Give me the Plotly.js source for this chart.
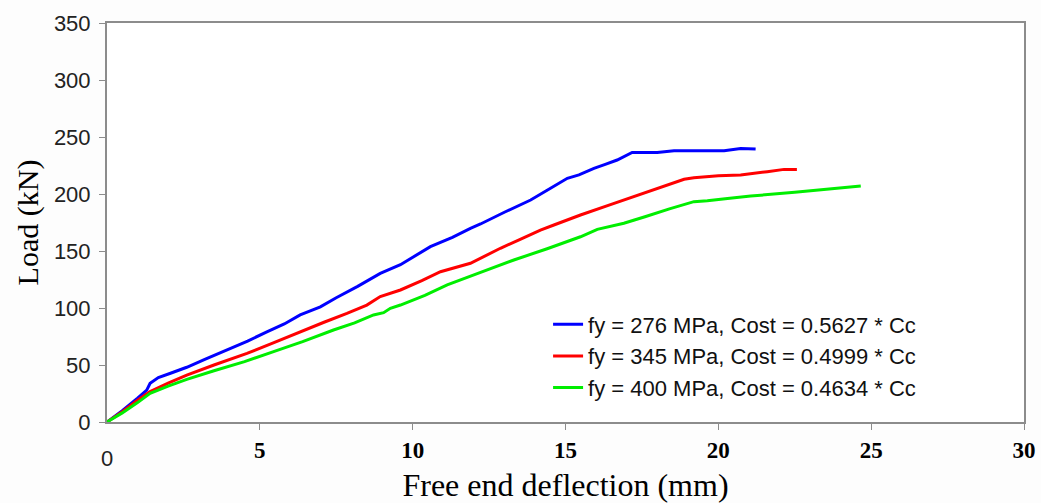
<!DOCTYPE html>
<html>
<head>
<meta charset="utf-8">
<script src="https://cdn.plot.ly/plotly-3.0.1.min.js"></script>
<style>html,body{margin:0;padding:0;background:#fff;}#chart{width:1041px;height:503px;}</style>
</head>
<body>
<div id="chart"></div>
<script>
const seriesNames = [
  "fy = 276 MPa, Cost = 0.5627 * Cc",
  "fy = 345 MPa, Cost = 0.4999 * Cc",
  "fy = 400 MPa, Cost = 0.4634 * Cc"
];
const blueX = [0, 0.5, 1.0, 1.3, 1.41, 1.68, 2.1, 2.61, 3.2, 3.92, 4.6, 5.23, 5.8, 6.32, 6.98, 7.5, 8.2, 8.94, 9.6, 10.58, 11.3, 11.89, 12.22, 13.0, 13.86, 14.51, 15.06, 15.44, 15.93, 16.3, 16.69, 17.18, 18.0, 18.55, 19.4, 20.19, 20.73, 21.22];
const blueY = [0, 10, 21, 28, 34, 39, 43, 48, 55, 63, 71, 79, 86, 94, 101, 109, 119, 130.4, 138, 153.8, 162, 169.9, 173.7, 184, 194.7, 205, 213.8, 216.7, 222.5, 226, 229.8, 236.5, 236.5, 238, 238, 238, 240, 239.5];
const redX = [0, 0.5, 1.0, 1.41, 2.0, 2.61, 3.5, 4.58, 5.4, 6.32, 7.1, 7.85, 8.5, 8.94, 9.6, 10.3, 10.91, 11.89, 12.87, 13.5, 14.18, 14.62, 15.49, 16.4, 17.24, 18.0, 18.88, 19.2, 20.0, 20.73, 21.2, 21.6, 22.15, 22.57];
const redY = [0, 9, 19, 26.6, 34, 41.2, 50, 60.2, 69, 79.2, 87.5, 95.3, 102.6, 110, 115.8, 124, 131.8, 139.2, 152.4, 160, 168.4, 172.8, 181.6, 190, 197.6, 205, 212.9, 214.3, 216, 216.7, 218, 219.6, 221.6, 221.6];
const greenX = [0, 0.5, 1.0, 1.41, 2.0, 2.61, 3.5, 4.5, 5.45, 6.4, 7.41, 8.1, 8.72, 9.05, 9.27, 9.6, 10.4, 11.13, 12.2, 13.31, 14.4, 15.49, 16.04, 16.91, 17.6, 18.4, 19.2, 19.64, 20.3, 21.06, 22.5, 24.0, 24.66];
const greenY = [0, 8, 17, 25.1, 31.5, 37.4, 45, 53, 61.7, 70.5, 80.7, 87, 93.9, 95.9, 99.7, 102.6, 111, 120.2, 131, 142.1, 152, 162.5, 169, 174.3, 180, 187, 193.3, 194.1, 196, 198.2, 201.5, 205, 207];
const xTickVals = [5, 10, 15, 20, 25, 30];
const xTickText = ["5", "10", "15", "20", "25", "30"];
const yTickVals = [0, 50, 100, 150, 200, 250, 300, 350];

const colors = ["#0000ff", "#ff0000", "#00ee00"];
const xs = [blueX, redX, greenX];
const ys = [blueY, redY, greenY];
const traces = xs.map((x, i) => ({
  x: x, y: ys[i], type: "scatter", mode: "lines", name: seriesNames[i],
  line: {color: colors[i], width: 3}
}));

const layout = {
  width: 1041, height: 503,
  margin: {l: 107, r: 17, t: 23, b: 81},
  paper_bgcolor: "#fdfdfd", plot_bgcolor: "#ffffff",
  showlegend: true,
  legend: {
    x: 0.481, y: 0.297, xanchor: "left", yanchor: "top",
    bgcolor: "rgba(0,0,0,0)",
    font: {family: "Arial, Liberation Sans", size: 22, color: "#111"},
    tracegroupgap: 0
  },
  xaxis: {
    range: [0, 30], tickvals: xTickVals, ticktext: xTickText,
    showgrid: false, zeroline: false,
    showline: true, mirror: true, linecolor: "#8c8c8c", linewidth: 2,
    ticks: "outside", ticklen: 6, tickcolor: "#8c8c8c", tickwidth: 1,
    ticklabelstandoff: 0,
    tickfont: {family: "Liberation Serif, Times New Roman", size: 23, color: "#000", weight: "bold"},
    title: {text: "Free end deflection (mm)", standoff: 18,
      font: {family: "Liberation Serif, Times New Roman", size: 32, color: "#000"}}
  },
  yaxis: {
    range: [0, 350], tickvals: yTickVals,
    showgrid: false, zeroline: false,
    showline: true, mirror: true, linecolor: "#8c8c8c", linewidth: 2,
    ticks: "outside", ticklen: 6, tickcolor: "#8c8c8c", tickwidth: 1,
    ticklabelstandoff: 4,
    tickfont: {family: "Arial, Liberation Sans", size: 22, color: "#222"},
    title: {text: "Load (kN)", standoff: 6,
      font: {family: "Liberation Serif, Times New Roman", size: 30, color: "#000"}}
  },
  annotations: [{
    x: 0, y: 0, xref: "x", yref: "paper", text: "0", showarrow: false,
    xanchor: "center", yanchor: "top", yshift: -22,
    font: {family: "Arial, Liberation Sans", size: 22, color: "#222"}
  }]
};
Plotly.newPlot("chart", traces, layout, {displayModeBar: false, staticPlot: true});
</script>
</body>
</html>
